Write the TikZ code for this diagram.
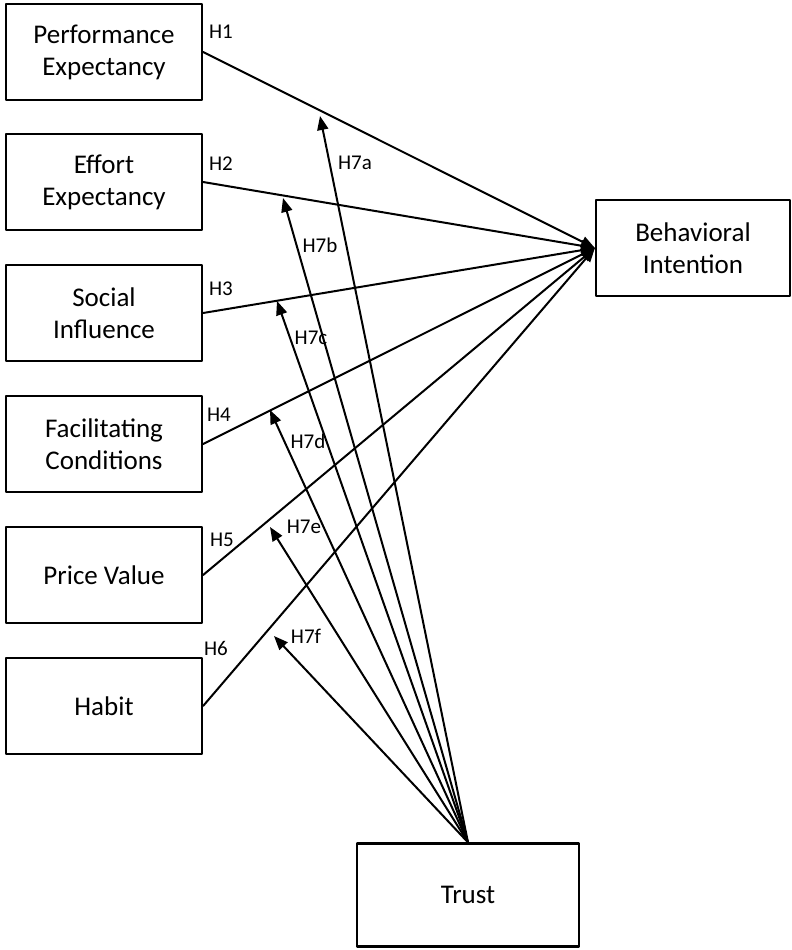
\documentclass[tikz,border=0pt]{standalone}
\usepackage{fontspec}
\setmainfont{Carlito}
\usetikzlibrary{arrows.meta}
\begin{document}
\begin{tikzpicture}[x=1pt,y=-1pt,line join=round,line cap=round,>={Triangle[length=14pt,width=11pt]},line width=2pt]
		\tikzset{box/.style={draw,line width=2.2pt,minimum width=196pt,minimum height=96pt,inner sep=0pt,align=center,font=\fontsize{27}{32}\selectfont},
			hlabel/.style={font=\fontsize{21}{24}\selectfont,inner sep=0pt}}
		\useasboundingbox (0,0) rectangle (792,950);
		\node[box] (pe) at (104,52) {Performance\\Expectancy};
		\node[box] (ee) at (104,182) {Effort\\Expectancy};
		\node[box] (si) at (104,313) {Social\\Influence};
		\node[box] (fc) at (104,444) {Facilitating\\Conditions};
		\node[box] (pv) at (104,575) {Price Value};
		\node[box] (hb) at (104,706) {Habit};
		\node[box,minimum width=194pt] (bi) at (693,248) {Behavioral\\Intention};
		\node[box,minimum width=222pt,minimum height=103pt] (trust) at (468,895) {Trust};
		\foreach \n in {pe,ee,si,fc,pv,hb}
		\draw[->] (\n.east) -- (bi.west);
		\coordinate (ta) at (320,116);
		\coordinate (tb) at (283,198);
		\coordinate (tc) at (277,301);
		\coordinate (td) at (270,410);
		\coordinate (te) at (270,527);
		\coordinate (tf) at (274,636);
		\foreach \t in {ta,tb,tc,td,te,tf}
		\draw[->] (trust.north) -- (\t);
		\node[hlabel] (h1) at (221,32) {H1};
		\node[hlabel] (h2) at (221,164) {H2};
		\node[hlabel] (h3) at (221,289) {H3};
		\node[hlabel] (h4) at (219,415) {H4};
		\node[hlabel] (h5) at (222,540) {H5};
		\node[hlabel] (h6) at (216,648) {H6};
		\node[hlabel] (h7a) at (355,163) {H7a};
		\node[hlabel] (h7b) at (320,245) {H7b};
		\node[hlabel] (h7c) at (311,338) {H7c};
		\node[hlabel] (h7d) at (308,441) {H7d};
		\node[hlabel] (h7e) at (304,527) {H7e};
		\node[hlabel] (h7f) at (306,636) {H7f};
\end{tikzpicture}
\end{document}
